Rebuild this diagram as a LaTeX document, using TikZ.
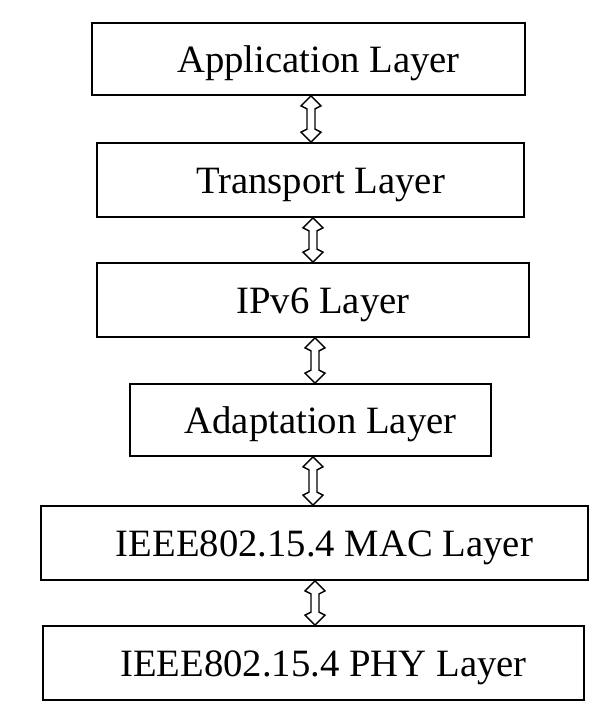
\documentclass[tikz,border=0pt]{standalone}
\usepackage{fontspec}
\setmainfont{Liberation Serif}
\usetikzlibrary{calc}

\tikzset{
  layer/.style={draw, line width=1.8pt, inner sep=0pt},
  layertext/.style={font=\fontsize{38.7}{46}\selectfont, text height=36pt, text depth=9pt, xshift=10pt},
  updown/.style={line width=1.4pt, line join=miter, to path={
    let \p1=(\tikztostart), \p2=(\tikztotarget) in
    (\p1) -- (\x1+10pt,\y1-10pt) -- (\x1+4pt,\y1-13pt) -- (\x1+4pt,\y2+13pt)
    -- (\x1+10pt,\y2+10pt) -- (\p2) -- (\x1-10pt,\y2+10pt) -- (\x1-4pt,\y2+13pt)
    -- (\x1-4pt,\y1-13pt) -- (\x1-10pt,\y1-10pt) -- cycle}}
}

\begin{document}
\begin{tikzpicture} [x=1pt, y=-1pt]

\useasboundingbox (0,0) rectangle (614,722);

% the stack, top to bottom
\node [layer, minimum width=433pt, minimum height=72pt, label={[layertext]center:Application Layer}] (app) at (308.5,59) {};
\node [layer, minimum width=427pt, minimum height=74pt, label={[layertext]center:Transport Layer}] (trans) at (310.5,180) {};
\node [layer, minimum width=432pt, minimum height=74pt, label={[layertext]center:IPv6 Layer}] (ipv6) at (313,300) {};
\node [layer, minimum width=361pt, minimum height=72pt, label={[layertext]center:Adaptation Layer}] (adapt) at (310.5,420) {};
\node [layer, minimum width=547pt, minimum height=74pt, label={[layertext]center:IEEE802.15.4 MAC Layer}] (mac) at (314.5,543) {};
\node [layer, minimum width=541pt, minimum height=74pt, label={[layertext]center:IEEE802.15.4 PHY Layer}] (phy) at (313.5,663) {};

% arrows between the layers
\draw [updown] (app.south -| 311,0) to (trans.north -| 311,0);
\draw [updown] (trans.south -| 313,0) to (ipv6.north -| 313,0);
\draw [updown] (ipv6.south -| 315,0) to (adapt.north -| 315,0);
\draw [updown] (adapt.south -| 313,0) to (mac.north -| 313,0);
\draw [updown] (mac.south -| 315,0) to (phy.north -| 315,0);

\end{tikzpicture}
\end{document}
